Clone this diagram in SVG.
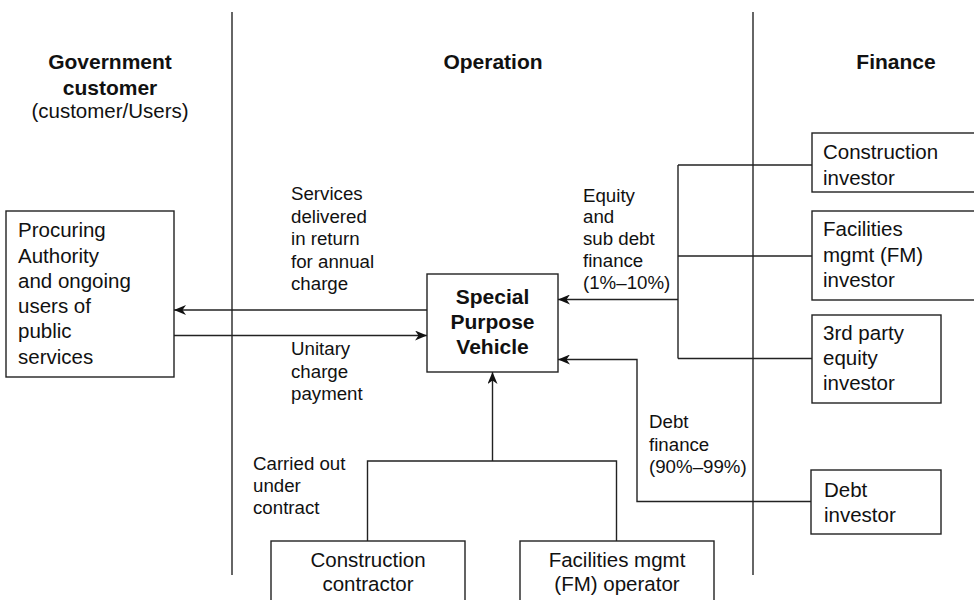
<svg xmlns="http://www.w3.org/2000/svg" width="974" height="600" viewBox="0 0 974 600">
<defs>
<style>
text{font-family:"Liberation Sans",Arial,Helvetica,sans-serif;fill:#111}
.h{font-size:21px;font-weight:bold;text-anchor:middle}
.hr{font-size:20.5px;text-anchor:middle}
.n{font-size:20.5px}
.nc{font-size:20.5px;text-anchor:middle}
.b{font-size:21px;font-weight:bold;text-anchor:middle}
.l{font-size:18.7px}
.box{fill:#fff;stroke:#222;stroke-width:1.4}
.ln{fill:none;stroke:#222;stroke-width:1.4}
.div{fill:none;stroke:#333;stroke-width:1.5}
</style>
<marker id="ah" viewBox="0 0 12 10" refX="12" refY="5" markerWidth="12" markerHeight="10" markerUnits="userSpaceOnUse" orient="auto">
<path d="M0,0 L12,5 L0,10 L3.5,5 Z" fill="#111"/>
</marker>
</defs>
<rect width="974" height="600" fill="#fff"/>
<g id="dividers">
<line class="div" x1="232" y1="12" x2="232" y2="575"/>
<line class="div" x1="753" y1="12" x2="753" y2="575"/>
</g>
<g id="headers">
<text class="h" x="110" y="69">Government</text>
<text class="h" x="110" y="95">customer</text>
<text class="hr" x="110" y="118">(customer/Users)</text>
<text class="h" x="493" y="69">Operation</text>
<text class="h" x="896" y="69">Finance</text>
</g>
<g id="connectors">
<line class="ln" x1="427" y1="310" x2="174" y2="310" marker-end="url(#ah)"/>
<line class="ln" x1="174" y1="335.5" x2="427" y2="335.5" marker-end="url(#ah)"/>
<line class="ln" x1="678" y1="299.5" x2="558" y2="299.5" marker-end="url(#ah)"/>
<polyline class="ln" points="678,165 678,358.5"/>
<line class="ln" x1="678" y1="165" x2="812" y2="165"/>
<line class="ln" x1="678" y1="256" x2="812" y2="256"/>
<line class="ln" x1="678" y1="358.5" x2="812" y2="358.5"/>
<polyline class="ln" points="811,501.5 637,501.5 637,359.5 558,359.5" marker-end="url(#ah)"/>
<polyline class="ln" points="367.5,541 367.5,461 616.5,461 616.5,541"/>
<line class="ln" x1="492.5" y1="461" x2="492.5" y2="372" marker-end="url(#ah)"/>
</g>
<g id="labels">
<text class="l" x="291" y="200">Services</text>
<text class="l" x="291" y="222.5">delivered</text>
<text class="l" x="291" y="245">in return</text>
<text class="l" x="291" y="267.5">for annual</text>
<text class="l" x="291" y="290">charge</text>
<text class="l" x="291" y="355">Unitary</text>
<text class="l" x="291" y="377.5">charge</text>
<text class="l" x="291" y="400">payment</text>
<text class="l" x="583" y="201.5">Equity</text>
<text class="l" x="583" y="223">and</text>
<text class="l" x="583" y="245">sub debt</text>
<text class="l" x="583" y="267">finance</text>
<text class="l" x="583" y="289">(1%–10%)</text>
<text class="l" x="253" y="470">Carried out</text>
<text class="l" x="253" y="492">under</text>
<text class="l" x="253" y="513.5">contract</text>
<text class="l" x="649" y="428">Debt</text>
<text class="l" x="649" y="450.5">finance</text>
<text class="l" x="649" y="472.5">(90%–99%)</text>
</g>
<g id="procuring-authority">
<rect class="box" x="6" y="211" width="168" height="166"/>
<text class="n" x="18" y="237">Procuring</text>
<text class="n" x="18" y="262.5">Authority</text>
<text class="n" x="18" y="287.5">and ongoing</text>
<text class="n" x="18" y="313">users of</text>
<text class="n" x="18" y="338">public</text>
<text class="n" x="18" y="363.5">services</text>
</g>
<g id="spv">
<rect class="box" x="427" y="274" width="131" height="98"/>
<text class="b" x="492.5" y="304">Special</text>
<text class="b" x="492.5" y="329">Purpose</text>
<text class="b" x="492.5" y="354">Vehicle</text>
</g>
<g id="construction-investor">
<rect class="box" x="812" y="133" width="170" height="59"/>
<text class="n" x="823" y="159">Construction</text>
<text class="n" x="823" y="185">investor</text>
</g>
<g id="fm-investor">
<rect class="box" x="812" y="211" width="170" height="89"/>
<text class="n" x="823" y="236">Facilities</text>
<text class="n" x="823" y="261.5">mgmt (FM)</text>
<text class="n" x="823" y="287">investor</text>
</g>
<g id="third-party-investor">
<rect class="box" x="812" y="315" width="129" height="88"/>
<text class="n" x="823" y="339.5">3rd party</text>
<text class="n" x="823" y="365">equity</text>
<text class="n" x="823" y="390">investor</text>
</g>
<g id="debt-investor">
<rect class="box" x="811" y="470" width="130" height="64"/>
<text class="n" x="824" y="496.5">Debt</text>
<text class="n" x="824" y="521.5">investor</text>
</g>
<g id="construction-contractor">
<rect class="box" x="271" y="541" width="194" height="70"/>
<text class="nc" x="368" y="566.5">Construction</text>
<text class="nc" x="368" y="591">contractor</text>
</g>
<g id="fm-operator">
<rect class="box" x="520" y="541" width="194" height="70"/>
<text class="nc" x="617" y="566.5">Facilities mgmt</text>
<text class="nc" x="617" y="591">(FM) operator</text>
</g>
</svg>
